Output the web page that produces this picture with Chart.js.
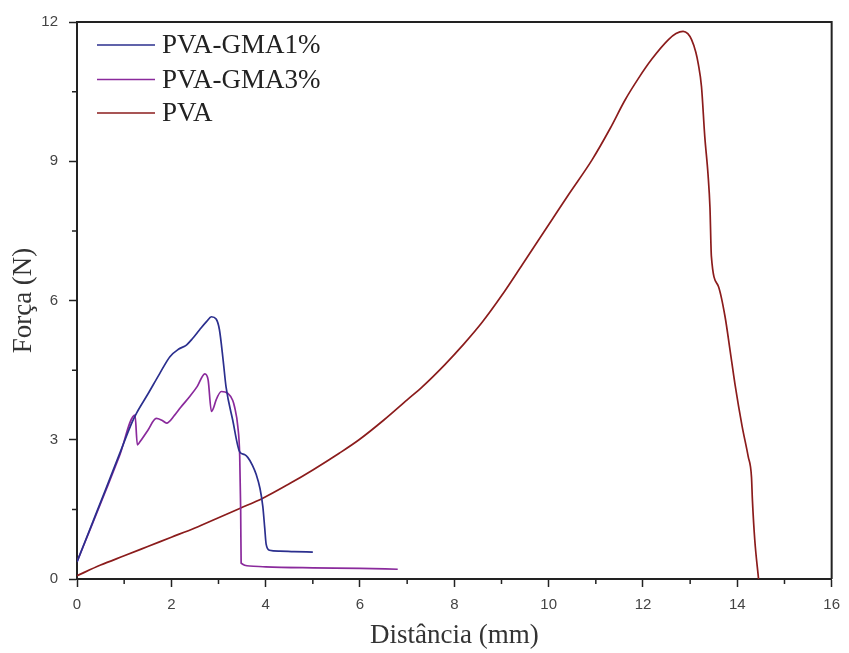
<!DOCTYPE html>
<html>
<head>
<meta charset="utf-8">
<script src="https://cdn.jsdelivr.net/npm/chart.js@4/dist/chart.umd.min.js"></script>
<style>
html,body{margin:0;padding:0;background:#fff;}
#wrap{width:849px;height:653px;position:relative;}
</style>
</head>
<body>
<div id="wrap"><canvas id="c" width="849" height="653"></canvas></div>
<script>
// ---- data ----
const seriesNames = ['PVA-GMA1%', 'PVA-GMA3%', 'PVA'];
const xTicks = [0, 2, 4, 6, 8, 10, 12, 14, 16];
const yTicks = [0, 3, 6, 9, 12];

const gma1X = [0, 0.3, 0.6, 0.9, 1.16, 1.26, 1.5, 1.75, 1.97, 2.15, 2.32, 2.45, 2.6, 2.75, 2.85, 2.95, 3.02, 3.1, 3.16, 3.3, 3.45, 3.55, 3.62, 3.72, 3.8, 3.88, 3.94, 3.98, 4.01, 4.08, 4.3, 4.6, 5.0];
const gma1Y = [0.37, 1.14, 1.91, 2.69, 3.36, 3.57, 3.98, 4.42, 4.79, 4.95, 5.04, 5.18, 5.37, 5.55, 5.65, 5.6, 5.37, 4.7, 4.14, 3.43, 2.74, 2.68, 2.62, 2.45, 2.25, 1.95, 1.56, 1.1, 0.75, 0.62, 0.6, 0.59, 0.58];

const gma3X = [0, 0.3, 0.6, 0.9, 1.23, 1.28, 1.33, 1.5, 1.68, 1.8, 1.9, 2.07, 2.2, 2.39, 2.55, 2.71, 2.78, 2.85, 2.9, 2.95, 3.06, 3.2, 3.3, 3.34, 3.41, 3.45, 3.47, 3.48, 3.66, 4.0, 5.0, 6.0, 6.8];
const gma3Y = [0.37, 1.12, 1.88, 2.65, 3.53, 2.89, 2.95, 3.2, 3.46, 3.42, 3.36, 3.53, 3.7, 3.93, 4.15, 4.42, 4.29, 3.61, 3.7, 3.86, 4.04, 4.0, 3.85, 3.71, 3.28, 2.64, 1.5, 0.34, 0.28, 0.26, 0.24, 0.23, 0.21];

const pvaX = [0, 0.5, 1, 1.5, 2, 2.5, 3, 3.45, 3.94, 4.5, 5, 5.56, 5.98, 6.5, 7, 7.32, 7.8, 8.2, 8.59, 9, 9.44, 10.07, 10.42, 10.92, 11.3, 11.62, 11.9, 12.18, 12.54, 12.7, 12.85, 12.95, 13.03, 13.12, 13.17, 13.24, 13.31, 13.38, 13.42, 13.45, 13.6, 13.74, 13.85, 13.95, 14.1, 14.23, 14.3, 14.32, 14.37, 14.45];
const pvaY = [0.07, 0.3, 0.5, 0.7, 0.9, 1.1, 1.32, 1.52, 1.74, 2.05, 2.35, 2.71, 3.0, 3.42, 3.86, 4.14, 4.62, 5.06, 5.53, 6.1, 6.77, 7.74, 8.28, 9.03, 9.7, 10.32, 10.78, 11.19, 11.62, 11.75, 11.8, 11.75, 11.62, 11.35, 11.11, 10.61, 9.53, 8.7, 8.0, 6.95, 6.3, 5.65, 4.9, 4.2, 3.3, 2.64, 2.2, 1.7, 0.84, 0];

const seriesColors = ['#2b2f8e', '#8a2a9c', '#8b1c1c'];

function pts(xs, ys) { return xs.map((x, i) => ({ x: x, y: ys[i] })); }

const AXIS_COLOR = '#222';
const SERIF = '"Liberation Serif", "Times New Roman", serif';
const SANS = '"Liberation Sans", Arial, sans-serif';

// minor ticks + frame + in-plot legend
const decor = {
  id: 'decor',
  afterDraw(chart) {
    const ctx = chart.ctx;
    const a = chart.chartArea;
    const xs = chart.scales.x, ys = chart.scales.y;
    ctx.save();
    ctx.strokeStyle = AXIS_COLOR;
    ctx.lineWidth = 2;
    ctx.beginPath();
    ctx.moveTo(a.left, a.top); ctx.lineTo(a.right, a.top); ctx.lineTo(a.right, a.bottom);
    ctx.stroke();
    ctx.lineWidth = 1.5;
    ctx.beginPath();
    for (let v = 1; v < 16; v += 2) {
      const px = xs.getPixelForValue(v);
      ctx.moveTo(px, a.bottom); ctx.lineTo(px, a.bottom + 5);
    }
    for (let v = 1.5; v < 12; v += 3) {
      const py = ys.getPixelForValue(v);
      ctx.moveTo(a.left, py); ctx.lineTo(a.left - 5, py);
    }
    ctx.stroke();
    ctx.font = '27px ' + SERIF;
    ctx.textBaseline = 'middle';
    ctx.textAlign = 'left';
    const rows = [45, 79.5, 113];
    chart.data.datasets.forEach((ds, i) => {
      const y = rows[i];
      ctx.strokeStyle = ds.borderColor;
      ctx.lineWidth = 1.5;
      ctx.beginPath(); ctx.moveTo(97, y); ctx.lineTo(155, y); ctx.stroke();
      ctx.fillStyle = '#222';
      ctx.fillText(ds.label, 162, y + 1);
    });
    ctx.restore();
  }
};

new Chart(document.getElementById('c'), {
  type: 'scatter',
  data: {
    datasets: [
      { label: seriesNames[0], data: pts(gma1X, gma1Y), borderColor: seriesColors[0] },
      { label: seriesNames[1], data: pts(gma3X, gma3Y), borderColor: seriesColors[1] },
      { label: seriesNames[2], data: pts(pvaX, pvaY), borderColor: seriesColors[2] }
    ].map(d => Object.assign(d, { showLine: true, pointRadius: 0, borderWidth: 1.7, cubicInterpolationMode: 'monotone', fill: false }))
  },
  options: {
    responsive: false,
    animation: false,
    layout: { padding: { top: 22, right: 15, left: 0, bottom: 0 } },
    plugins: { legend: { display: false }, tooltip: { enabled: false } },
    scales: {
      x: {
        type: 'linear', min: 0, max: 16,
        afterBuildTicks: s => { s.ticks = xTicks.map(v => ({ value: v })); },
        afterFit: s => { s.height = 74; },
        ticks: { font: { family: SANS, size: 15 }, color: '#444', padding: 9, maxRotation: 0 },
        grid: { drawOnChartArea: false, drawTicks: true, tickLength: 8, tickWidth: 1.5, tickColor: AXIS_COLOR },
        border: { display: true, color: AXIS_COLOR, width: 2 },
        title: { display: true, text: 'Distância (mm)', font: { family: SERIF, size: 27, lineHeight: 1 }, color: '#333', padding: { top: 0, bottom: 4 } }
      },
      y: {
        type: 'linear', min: 0, max: 12,
        afterBuildTicks: s => { s.ticks = yTicks.map(v => ({ value: v })); },
        afterFit: s => { s.width = 77; },
        ticks: { font: { family: SANS, size: 15 }, color: '#444', padding: 11 },
        grid: { drawOnChartArea: false, drawTicks: true, tickLength: 8, tickWidth: 1.5, tickColor: AXIS_COLOR },
        border: { display: true, color: AXIS_COLOR, width: 2 },
        title: { display: true, text: 'Força (N)', font: { family: SERIF, size: 27, lineHeight: 1 }, color: '#333', padding: { top: 10, bottom: 0 } }
      }
    }
  },
  plugins: [decor]
});
</script>
</body>
</html>
